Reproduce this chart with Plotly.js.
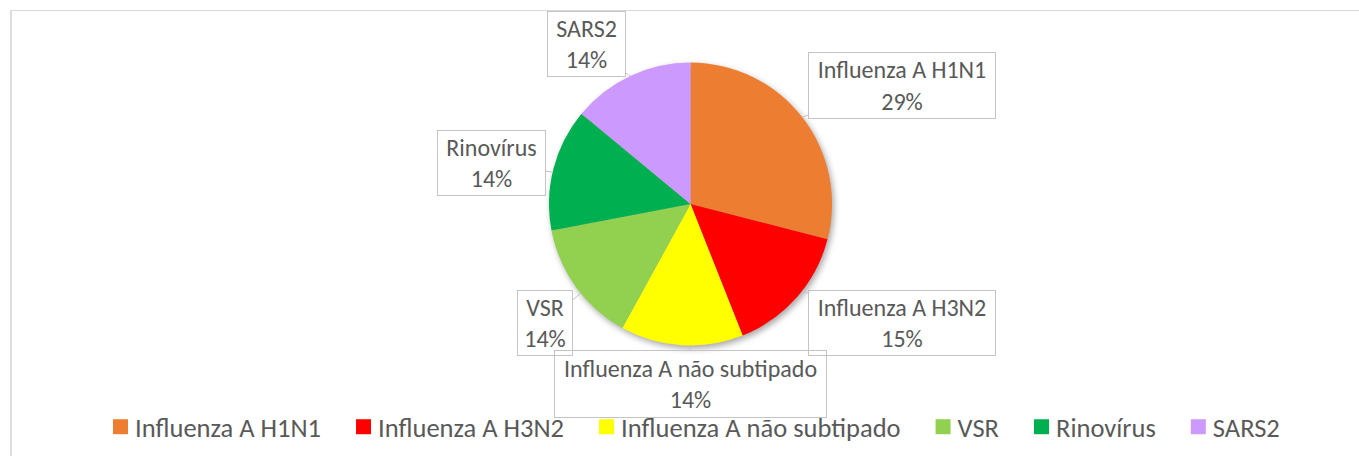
<!DOCTYPE html>
<html>
<head>
<meta charset="utf-8">
<script src="https://cdn.plot.ly/plotly-3.0.1.min.js"></script>
<style>
  html, body { margin: 0; padding: 0; background: #fff; }
  #wrap { position: relative; width: 1359px; height: 456px; overflow: hidden; }
  #chart { position: absolute; left: 0; top: 0; width: 1359px; height: 456px; }
  #frame { position: absolute; left: 10px; top: 10px; width: 1400px; height: 500px;
           border-top: 1px solid #d9d9d9; border-left: 2px solid #dedede; pointer-events: none; }
  .pielayer { filter: drop-shadow(2px 3px 3px rgba(0,0,0,0.35)); }
  path.legendpie { transform-box: view-box; transform-origin: 0px 0px;
                   transform: translate(37.5px, 0px) scale(1.25); }
</style>
</head>
<body>
<div id="wrap">
  <div id="chart"></div>
  <div id="frame"></div>
</div>
<script>
// ---- data ----
const categories = ["Influenza A H1N1", "Influenza A H3N2", "Influenza A não subtipado", "VSR", "Rinovírus", "SARS2"];
const values = [29, 15, 14, 14, 14, 14];
const colors = ["#ED7D31", "#FF0000", "#FFFF00", "#92D050", "#00B050", "#CC99FF"];

// ---- layout helpers (pixel geometry of the label callouts) ----
const W = 1359, H = 456;
const FONT = "Carlito, Lato, 'Open Sans', sans-serif";
const TXT = "#595959";
// box centre (cx, cy), box size (w, h), tail tip (tx, ty)
const boxes = [
  {cx: 902,   cy: 85.5,  w: 188, h: 67, tx: 802, ty: 117},
  {cx: 902,   cy: 323,   w: 188, h: 66, tx: 802, ty: 291},
  {cx: 690.5, cy: 384,   w: 273, h: 68, tx: 690, ty: 346},
  {cx: 545,   cy: 323,   w: 56,  h: 66, tx: 581, ty: 293},
  {cx: 491.5, cy: 163,   w: 109, h: 66, tx: 552, ty: 172},
  {cx: 586.5, cy: 44,    w: 79,  h: 66, tx: 630, ty: 76}
];
const pcx = 690.5, pcy = 204, pr = 141.5;

const total = values.reduce((a, b) => a + b, 0);

const trace = {
  type: "pie",
  labels: categories,
  values: values,
  sort: false,
  direction: "clockwise",
  rotation: 0,
  marker: { colors: colors, line: { width: 0 } },
  textinfo: "none",
  hoverinfo: "label+percent",
  domain: { x: [(pcx - pr) / W, (pcx + pr) / W], y: [1 - (pcy + pr) / H, 1 - (pcy - pr) / H] },
  showlegend: true
};

const annotations = categories.map((c, i) => {
  const b = boxes[i];
  return {
    xref: "paper", yref: "paper",
    x: b.tx / W, y: 1 - b.ty / H,
    ax: b.cx - b.tx, ay: b.cy - b.ty,
    showarrow: true, arrowhead: 0, arrowwidth: 1, arrowcolor: "#c4c4c4", standoff: 0,
    text: c + "<br>" + Math.round(values[i] / total * 100) + "%",
    font: { family: FONT, size: 24, color: TXT },
    align: "center", valign: "middle",
    width: b.w - 2, height: b.h - 2,
    bordercolor: "#c4c4c4", borderwidth: 1, borderpad: 0,
    bgcolor: "rgba(0,0,0,0)"
  };
});

const layout = {
  width: W, height: H,
  margin: { l: 0, r: 0, t: 0, b: 0 },
  paper_bgcolor: "#ffffff",
  plot_bgcolor: "#ffffff",
  font: { family: FONT, color: TXT },
  showlegend: true,
  legend: {
    orientation: "h",
    x: 83 / W, xanchor: "left",
    y: 1 - 427 / H, yanchor: "middle",
    itemwidth: 42,
    font: { family: FONT, size: 26.5, color: TXT },
    bgcolor: "rgba(0,0,0,0)",
    traceorder: "normal"
  },
  annotations: annotations
};

Plotly.newPlot("chart", [trace], layout, { displayModeBar: false, staticPlot: true });
</script>
</body>
</html>
